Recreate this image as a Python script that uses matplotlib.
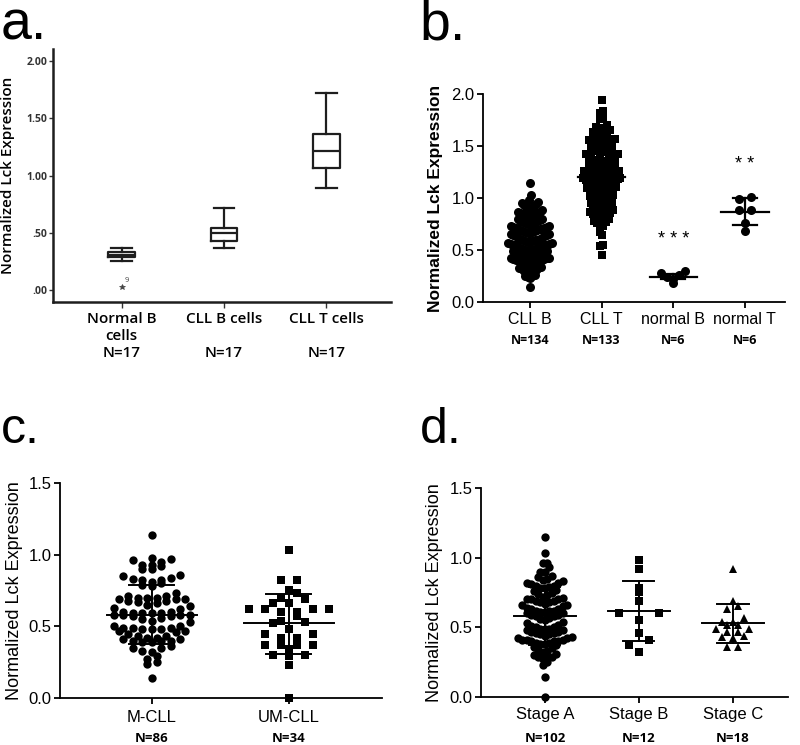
import numpy as np
import matplotlib.pyplot as plt

W, H = 800, 745

# ---- panel a: box plot summary ----
a_groups = ["Normal B\ncells", "CLL B cells", "CLL T cells"]
a_n = ["N=17", "N=17", "N=17"]
a_whislo = [0.256, 0.364, 0.888]
a_q1 = [0.285, 0.428, 1.063]
a_med = [0.306, 0.500, 1.214]
a_q3 = [0.335, 0.545, 1.360]
a_whishi = [0.364, 0.720, 1.720]
a_fliers = [[0.03], [], []]
a_flier_ids = ["9"]

# ---- panel b ----
b_groups = ["CLL B", "CLL T", "normal B", "normal T"]
b_n = ["N=134", "N=133", "N=6", "N=6"]
cll_b = [1.14, 1.03, 0.98, 0.96, 0.95, 0.94, 0.93, 0.92, 0.91,
         0.90, 0.89, 0.88, 0.87, 0.87, 0.86, 0.86, 0.85, 0.85, 0.84,
         0.83, 0.82, 0.81, 0.80, 0.80, 0.79, 0.78, 0.78, 0.77, 0.76, 0.76, 0.75, 0.75,
         0.74, 0.73, 0.73, 0.72, 0.72, 0.71, 0.71, 0.70, 0.70, 0.70, 0.69, 0.69,
         0.68, 0.68, 0.67, 0.67, 0.66, 0.66, 0.65, 0.65,
         0.64, 0.64, 0.63, 0.63, 0.62, 0.62, 0.61, 0.61, 0.60, 0.60, 0.60, 0.59,
         0.59, 0.58, 0.58, 0.57, 0.57, 0.56, 0.56, 0.55, 0.55, 0.55,
         0.54, 0.54, 0.53, 0.53, 0.52, 0.52, 0.51, 0.51, 0.50, 0.50, 0.50, 0.50,
         0.49, 0.49, 0.48, 0.48, 0.47, 0.47, 0.46, 0.46, 0.45, 0.45, 0.45,
         0.44, 0.44, 0.43, 0.43, 0.42, 0.42, 0.42, 0.41, 0.41, 0.40, 0.40, 0.40,
         0.39, 0.39, 0.38, 0.38, 0.38, 0.37,
         0.36, 0.35, 0.35, 0.34, 0.33, 0.33, 0.32, 0.31, 0.30, 0.30, 0.29, 0.28,
         0.27, 0.26, 0.25, 0.25, 0.24, 0.23, 0.14]
cll_t = [1.94, 1.84, 1.82, 1.78, 1.76, 1.70, 1.68, 1.67, 1.66, 1.66, 1.65, 1.63, 1.62, 1.61, 1.60,
         1.59, 1.58, 1.57, 1.56, 1.55, 1.55, 1.54, 1.53, 1.52, 1.51, 1.50, 1.50, 1.49, 1.48,
         1.47, 1.46, 1.45, 1.45,
         1.44, 1.43, 1.42, 1.42, 1.41, 1.40, 1.40, 1.39, 1.38, 1.37, 1.36, 1.36, 1.35, 1.35,
         1.34, 1.33, 1.32, 1.31, 1.30, 1.30,
         1.29, 1.28, 1.28, 1.27, 1.26, 1.26, 1.25, 1.25, 1.24, 1.24, 1.23, 1.22, 1.22, 1.21,
         1.21, 1.20, 1.20, 1.19, 1.19, 1.18, 1.17, 1.17, 1.16, 1.15, 1.15, 1.15,
         1.14, 1.13, 1.13, 1.12, 1.12, 1.11, 1.10, 1.10, 1.09, 1.08, 1.08, 1.07, 1.06, 1.05,
         1.05, 1.04, 1.03, 1.02, 1.01, 1.00, 1.00, 1.00,
         0.99, 0.98, 0.97, 0.96, 0.95, 0.94, 0.93, 0.92, 0.91, 0.90, 0.89, 0.88, 0.87, 0.86, 0.85,
         0.84, 0.83, 0.83, 0.82, 0.81, 0.80, 0.78, 0.77, 0.76, 0.75, 0.74, 0.73, 0.67, 0.64,
         0.55, 0.54, 0.45]
norm_b = [0.18, 0.22, 0.24, 0.26, 0.28, 0.30]
norm_t = [1.01, 0.99, 0.88, 0.88, 0.76, 0.68]
b_mean = [0.58, 1.20, 0.24, 0.87]
b_sd_lo = [0.34, 0.90, 0.22, 0.74]
b_sd_hi = [0.83, 1.50, 0.27, 1.00]
b_stars = ["", "", "* * *", "* *"]
b_star_y = [0, 0, 0.60, 1.32]

# ---- panel c ----
c_groups = ["M-CLL", "UM-CLL"]
c_n = ["N=86", "N=34"]
m_cll = [1.14,
         0.98, 0.97, 0.96, 0.95, 0.93, 0.93, 0.92, 0.90, 0.90,
         0.86, 0.85, 0.84, 0.83, 0.82, 0.82, 0.81, 0.80,
         0.79, 0.78, 0.73,
         0.71, 0.71, 0.70, 0.70, 0.70, 0.69, 0.69, 0.69, 0.68, 0.68, 0.67,
         0.66, 0.65, 0.64, 0.63, 0.62,
         0.60, 0.60, 0.59, 0.59, 0.59, 0.59, 0.58, 0.58, 0.58, 0.58, 0.57, 0.57, 0.56,
         0.55, 0.54, 0.53,
         0.50, 0.50, 0.49, 0.49, 0.49, 0.48, 0.48, 0.48, 0.47, 0.47, 0.46, 0.45,
         0.43, 0.43, 0.42, 0.42, 0.41, 0.41, 0.40, 0.40, 0.40, 0.39, 0.39,
         0.36, 0.35, 0.35,
         0.33, 0.32, 0.29, 0.27, 0.25, 0.24, 0.14]
um_cll = [1.03, 0.82, 0.82, 0.755, 0.73, 0.70, 0.69, 0.66, 0.66,
          0.62, 0.62, 0.62, 0.62, 0.60, 0.60, 0.57, 0.54, 0.53, 0.52,
          0.48, 0.45, 0.45, 0.42, 0.42, 0.37, 0.37, 0.37, 0.37, 0.34,
          0.30, 0.30, 0.29, 0.23, 0.0]
c_mean = [0.58, 0.52]
c_sd_lo = [0.38, 0.31]
c_sd_hi = [0.785, 0.727]

# ---- panel d ----
d_groups = ["Stage A", "Stage B", "Stage C"]
d_n = ["N=102", "N=12", "N=18"]
stage_a = [1.15, 1.03, 0.96, 0.96, 0.93, 0.90, 0.90,
           0.87, 0.86, 0.85, 0.84, 0.83, 0.82, 0.82, 0.81, 0.80, 0.80,
           0.79, 0.78, 0.78, 0.77, 0.76, 0.75, 0.74, 0.73,
           0.72, 0.71, 0.70, 0.70, 0.70, 0.69, 0.69, 0.68, 0.68, 0.67, 0.66, 0.66, 0.65,
           0.64, 0.63, 0.63, 0.62, 0.62, 0.62, 0.61, 0.61, 0.60, 0.60, 0.59, 0.59, 0.58, 0.58,
           0.57, 0.56, 0.55, 0.54, 0.53, 0.52,
           0.51, 0.50, 0.50, 0.49, 0.49, 0.49, 0.48, 0.48, 0.47, 0.47, 0.46, 0.46, 0.45, 0.45,
           0.44, 0.43, 0.42, 0.42, 0.41, 0.41, 0.41, 0.40, 0.40, 0.40, 0.39, 0.39, 0.38, 0.38,
           0.37, 0.36, 0.35, 0.34, 0.33,
           0.32, 0.31, 0.30, 0.29, 0.29, 0.28,
           0.27, 0.25, 0.23, 0.14, 0.0]
stage_b = [0.98, 0.92, 0.78, 0.756, 0.69, 0.60, 0.60, 0.55, 0.46, 0.41, 0.375, 0.325]
stage_c = [0.92, 0.69, 0.65, 0.63, 0.565, 0.54, 0.54, 0.52, 0.52,
           0.486, 0.486, 0.47, 0.47, 0.44, 0.43, 0.42, 0.357, 0.357]
d_mean = [0.58, 0.62, 0.533]
d_sd_lo = [0.373, 0.40, 0.39]
d_sd_hi = [0.79, 0.83, 0.67]

GP_FONT = ["Liberation Sans", "DejaVu Sans"]
SPSS_FONT = ["Open Sans", "DejaVu Sans"]


def add_axes_px(left, top, right, bottom):
    return fig.add_axes([left / W, 1 - bottom / H, (right - left) / W, (bottom - top) / H])


def row_offsets(vals, sx, sy, row_h, spacing):
    # GraphPad-like scatter: points binned into rows, spread sideways within a row
    v = np.asarray(vals, float)
    rows = np.floor(v * sy / row_h + 0.5).astype(int)
    off = np.zeros(len(v))
    for r in np.unique(rows):
        idx = np.where(rows == r)[0]
        idx = idx[np.argsort(v[idx])]
        n = len(idx)
        # fill centre-out so the row stays symmetric
        slots = (np.arange(n) - (n - 1) / 2.0) * spacing
        order = np.argsort(np.abs(slots), kind="stable")
        for j, k in zip(idx, order):
            off[j] = slots[k] / sx
    return off


def style_gp(ax, yticks, ylab, bold_label=False):
    for s in ["top", "right"]:
        ax.spines[s].set_visible(False)
    for s in ["left", "bottom"]:
        ax.spines[s].set_linewidth(1.3)
    ax.tick_params(length=4, width=1.3, direction="out", labelsize=12, pad=2)
    ax.set_yticks(yticks)
    ax.set_yticklabels([f"{t:.1f}" for t in yticks], family=GP_FONT)
    ax.set_ylabel(ylab, family=GP_FONT, fontsize=12.5 if bold_label else 13,
                  fontweight="bold" if bold_label else "normal")


def mean_sd(ax, pos, mean, lo, hi, lw=1.4):
    for x, m, l, h in zip(pos, mean, lo, hi):
        ax.plot([x - 0.33, x + 0.33], [m, m], color="black", lw=lw, zorder=4)
        ax.plot([x - 0.165, x + 0.165], [l, l], color="black", lw=lw, zorder=4)
        ax.plot([x - 0.165, x + 0.165], [h, h], color="black", lw=lw, zorder=4)
        ax.plot([x, x], [l, h], color="black", lw=lw, zorder=4)


def cat_labels(ax, pos, names, ns, dy_name, dy_n, name_size=12, n_size=9.5):
    ax.set_xticks(pos)
    ax.set_xticklabels([])
    for x, nm, n in zip(pos, names, ns):
        ax.annotate(nm, (x, 0), xycoords=("data", "axes fraction"),
                    xytext=(0, -dy_name * 0.72), textcoords="offset points",
                    ha="center", va="center", family=GP_FONT, fontsize=name_size)
        ax.annotate(n, (x, 0), xycoords=("data", "axes fraction"),
                    xytext=(0, -dy_n * 0.72), textcoords="offset points",
                    ha="center", va="center", family=SPSS_FONT, fontweight="bold",
                    fontsize=n_size)


def scatter_group(ax, x, vals, marker, ms, row_h, spacing, sx, sy):
    off = row_offsets(vals, sx, sy, row_h, spacing)
    ax.plot(x + off, vals, linestyle="none", marker=marker, ms=ms,
            color="black", markeredgewidth=0, clip_on=False, zorder=3)


fig = plt.figure(figsize=(W / 100, H / 100), dpi=100)

# ===================== panel a =====================
axA = add_axes_px(53, 49, 391, 302)
stats = []
for i in range(3):
    stats.append(dict(whislo=a_whislo[i], q1=a_q1[i], med=a_med[i],
                      q3=a_q3[i], whishi=a_whishi[i], fliers=a_fliers[i]))
lc = "#1e1e1e"
axA.bxp(stats, positions=[1, 2, 3], widths=0.26, capwidths=0.2,
        boxprops=dict(color=lc, lw=1.6), medianprops=dict(color=lc, lw=1.6),
        whiskerprops=dict(color=lc, lw=1.6), capprops=dict(color=lc, lw=1.6),
        flierprops=dict(marker="*", markersize=4, markerfacecolor="#444",
                        markeredgecolor="#444", markeredgewidth=0.5))
axA.annotate(a_flier_ids[0], (1, a_fliers[0][0]), xytext=(2.5, 3), textcoords="offset points",
             fontsize=5.5, color="#444", family=SPSS_FONT)
axA.set_xlim(0.33, 3.63)
axA.set_ylim(-0.105, 2.105)
for s in ["top", "right"]:
    axA.spines[s].set_visible(False)
for s in ["left", "bottom"]:
    axA.spines[s].set_linewidth(1.8)
    axA.spines[s].set_color(lc)
axA.set_yticks([0, 0.5, 1.0, 1.5, 2.0])
axA.set_yticklabels([".00", ".50", "1.00", "1.50", "2.00"], family=SPSS_FONT,
                    fontweight="bold", fontsize=7.5, color="#333")
axA.tick_params(axis="y", length=3, width=1, color="#333", pad=1)
axA.tick_params(axis="x", length=4, width=1, color="#333")
axA.set_xticks([1, 2, 3])
axA.set_xticklabels(a_groups, family=SPSS_FONT, fontweight="semibold", fontsize=11,
                    linespacing=1.3)
axA.tick_params(axis="x", pad=3)
for x, n in zip([1, 2, 3], a_n):
    axA.annotate(n, (x, 0), xycoords=("data", "axes fraction"), xytext=(0, -51 * 0.72),
                 textcoords="offset points", ha="center", va="center",
                 family=SPSS_FONT, fontweight="semibold", fontsize=11)
axA.set_ylabel("Normalized Lck Expression", family=SPSS_FONT, fontweight="semibold",
               fontsize=11)
axA.yaxis.set_label_coords(-0.112, 0.5)

# ===================== panel b =====================
axB = add_axes_px(483, 94, 785, 302)
xlB, ylB = (0.345, 4.56), (0, 2.0)
axB.set_xlim(*xlB)
axB.set_ylim(*ylB)
sxB = 302 / (xlB[1] - xlB[0])
syB = 208 / (ylB[1] - ylB[0])
scatter_group(axB, 1, cll_b, "o", 6.5, 8, 2.4, sxB, syB)
scatter_group(axB, 2, cll_t, "s", 6.3, 8, 2.9, sxB, syB)
scatter_group(axB, 3, norm_b, "o", 6.5, 9, 6.0, sxB, syB)
scatter_group(axB, 4, norm_t, "o", 6.5, 8, 12.0, sxB, syB)
mean_sd(axB, [1, 2, 3, 4], b_mean, b_sd_lo, b_sd_hi, lw=1.6)
for x, s, y in zip([1, 2, 3, 4], b_stars, b_star_y):
    if s:
        axB.text(x, y, s, ha="center", va="center", fontsize=13, family=GP_FONT)
style_gp(axB, [0, 0.5, 1.0, 1.5, 2.0], "Normalized Lck Expression", bold_label=True)
axB.yaxis.set_label_coords(-0.132, 0.5)
cat_labels(axB, [1, 2, 3, 4], b_groups, b_n, 17, 39, name_size=11.5, n_size=9)

# ===================== panel c =====================
axC = add_axes_px(60, 483, 382, 698)
xlC, ylC = (0.33, 2.68), (0, 1.5)
axC.set_xlim(*xlC)
axC.set_ylim(*ylC)
sxC = 322 / (xlC[1] - xlC[0])
syC = 215 / (ylC[1] - ylC[0])
scatter_group(axC, 1, m_cll, "o", 6.0, 8, 9.5, sxC, syC)
scatter_group(axC, 2, um_cll, "s", 5.8, 8, 16.0, sxC, syC)
mean_sd(axC, [1, 2], c_mean, c_sd_lo, c_sd_hi)
style_gp(axC, [0, 0.5, 1.0, 1.5], "Normalized Lck Expression")
axC.yaxis.set_label_coords(-0.115, 0.5)
cat_labels(axC, [1, 2], c_groups, c_n, 19, 40)

# ===================== panel d =====================
axD = add_axes_px(481, 488, 788, 697)
xlD, ylD = (0.32, 3.585), (0, 1.5)
axD.set_xlim(*xlD)
axD.set_ylim(*ylD)
sxD = 307 / (xlD[1] - xlD[0])
syD = 209 / (ylD[1] - ylD[0])
scatter_group(axD, 1, stage_a, "o", 6.0, 8, 4.5, sxD, syD)
scatter_group(axD, 2, stage_b, "s", 6.2, 8, 20.0, sxD, syD)
scatter_group(axD, 3, stage_c, "^", 5.8, 6, 11.0, sxD, syD)
mean_sd(axD, [1, 2, 3], d_mean, d_sd_lo, d_sd_hi)
style_gp(axD, [0, 0.5, 1.0, 1.5], "Normalized Lck Expression")
axD.yaxis.set_label_coords(-0.124, 0.5)
cat_labels(axD, [1, 2, 3], d_groups, d_n, 18, 42)

# panel letters
for txt, x, y, fs in [("a.", 1, 40, 40), ("b.", 419, 40, 40),
                      ("c.", 1, 443, 36), ("d.", 420, 443, 36)]:
    fig.text(x / W, 1 - y / H, txt, fontsize=fs, family=GP_FONT, va="baseline", ha="left")

fig.savefig("out.png", dpi=100)
